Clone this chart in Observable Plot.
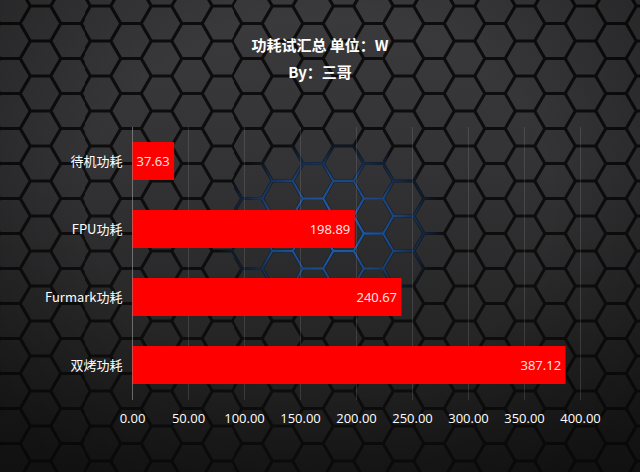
<!DOCTYPE html>
<html>
<head>
<meta charset="utf-8">
<script src="https://cdn.jsdelivr.net/npm/d3@7"></script>
<script src="https://cdn.jsdelivr.net/npm/@observablehq/plot@0.6"></script>
<style>
  html, body { margin: 0; padding: 0; background: #222; }
  #wrap {
    position: relative; width: 640px; height: 472px; overflow: hidden;
    background: linear-gradient(180deg, #3b3b3d 0%, #333335 35%, #262627 70%, #1a1a1a 100%);
    font-family: "Open Sans", "Noto Sans CJK SC", sans-serif;
  }
  .hex { position: absolute; left: 0; top: 0; width: 640px; height: 472px; pointer-events: none; }
  #blue {
    opacity: 0.8;
    -webkit-mask-image: radial-gradient(ellipse 115px 90px at 330px 228px, rgba(0,0,0,1) 0%, rgba(0,0,0,0.6) 60%, rgba(0,0,0,0) 100%);
    mask-image: radial-gradient(ellipse 115px 90px at 330px 228px, rgba(0,0,0,1) 0%, rgba(0,0,0,0.6) 60%, rgba(0,0,0,0) 100%);
  }
  #vign {
    background: radial-gradient(ellipse 420px 330px at 320px 200px, rgba(0,0,0,0) 55%, rgba(0,0,0,0.35) 100%);
  }
  #content { position: relative; }
  #title {
    height: 100px; box-sizing: border-box; padding-top: 31px;
    text-align: center; color: #fff; font-weight: bold; font-size: 15px; line-height: 27px;
    font-family: "Noto Sans CJK SC", sans-serif;
  }
</style>
</head>
<body>
<div id="wrap">
  <div class="hex" id="black"></div>
  <div class="hex" id="blue"></div>
  <div class="hex" id="vign"></div>
  <div id="content">
    <div id="title"><div>功耗试汇总 单位：W</div><div>By：三哥</div></div>
    <div id="chart"></div>
  </div>
</div>
<script>
const categories = ["待机功耗", "FPU功耗", "Furmark功耗", "双烤功耗"];
const values = [37.63, 198.89, 240.67, 387.12];
const xTicks = [0, 50, 100, 150, 200, 250, 300, 350, 400];

// hexagon background tile (decoration only)
function hexTile(stroke, width) {
  const s = 20.2, h = Math.sqrt(3) * s, w = 3 * s;
  const p = `M${0.5*s},${h/2} L${s},0 L${2*s},0 L${2.5*s},${h/2} L${2*s},${h} L${s},${h} Z M0,${h/2} L${0.5*s},${h/2} M${2.5*s},${h/2} L${w},${h/2}`;
  const svg = `<svg xmlns='http://www.w3.org/2000/svg' width='${w}' height='${h}'><path d='${p}' fill='none' stroke='${stroke}' stroke-width='${width}' stroke-linejoin='round'/></svg>`;
  return { url: `url("data:image/svg+xml;utf8,${encodeURIComponent(svg)}")`, w, h };
}
const t1 = hexTile("#0d0d0d", 3.2);
const el1 = document.getElementById("black");
el1.style.backgroundImage = t1.url;
el1.style.backgroundSize = `${t1.w}px ${t1.h}px`;
el1.style.backgroundPosition = "10px 6px";
const t2 = hexTile("#2a7ff0", 2.4);
const el2 = document.getElementById("blue");
el2.style.backgroundImage = t2.url;
el2.style.backgroundSize = `${t2.w}px ${t2.h}px`;
el2.style.backgroundPosition = "10px 6px";

const data = categories.map((c, i) => ({ cat: c, value: values[i] }));

const chart = Plot.plot({
  width: 640,
  height: 372,
  marginTop: 27,
  marginBottom: 72,
  marginLeft: 132,
  marginRight: 60,
  style: { background: "transparent", color: "#fff", fontSize: "13px", fontFamily: "\"Open Sans\", \"Noto Sans CJK SC\", sans-serif" },
  x: { domain: [0, 400], ticks: xTicks, tickFormat: d3.format(".2f"), label: null },
  y: { domain: categories, paddingInner: 0.44, paddingOuter: 0.22, label: null },
  marks: [
    Plot.gridX(xTicks, { stroke: "#9a9a9a", strokeOpacity: 0.22 }),
    Plot.axisX(xTicks, { tickSize: 0, tickPadding: 13, tickFormat: d3.format(".2f"), fill: "#fff", fontSize: 13, label: null }),
    Plot.axisY({ tickSize: 0, tickPadding: 10, fill: "#fff", fontSize: 13, label: null, fontFamily: "\"Noto Sans CJK SC\", sans-serif" }),
    Plot.barX(data, { x: "value", y: "cat", fill: "#ff0000" }),
    Plot.ruleX([0], { stroke: "#9a9a9a", strokeOpacity: 0.5 }),
    Plot.text(data, { x: "value", y: "cat", text: d => d3.format(".2f")(d.value), textAnchor: "end", dx: -5, fill: "#ffeaea", fontSize: 13 })
  ]
});
document.getElementById("chart").appendChild(chart);
</script>
</body>
</html>
